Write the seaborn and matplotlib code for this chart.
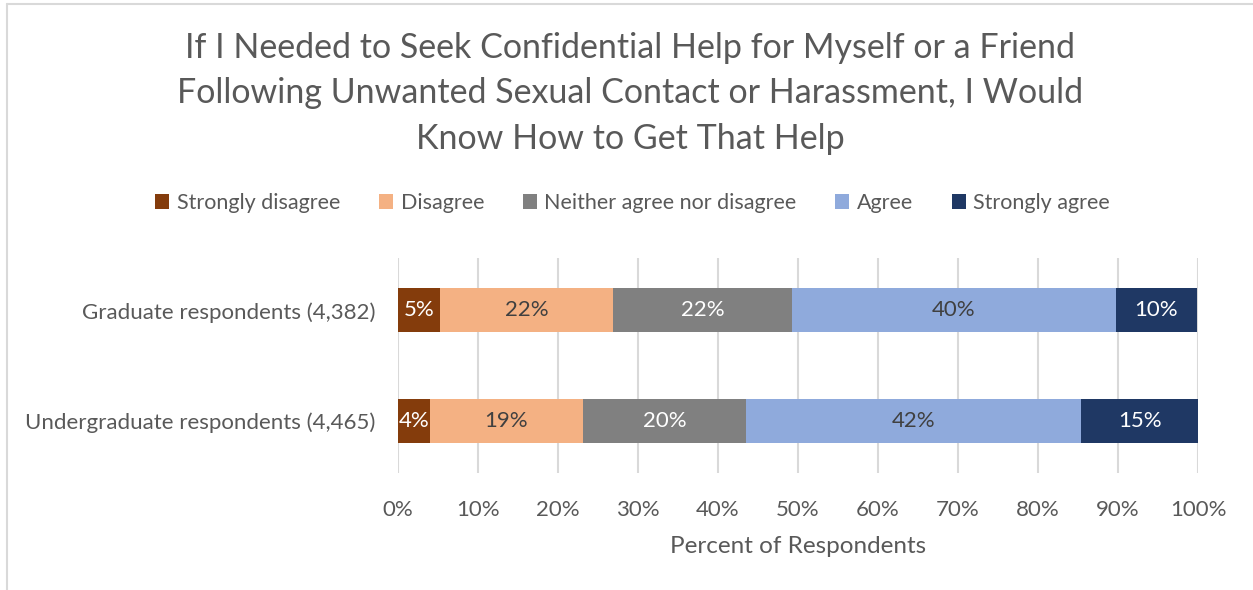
import numpy as np
import pandas as pd
import matplotlib.pyplot as plt
import seaborn as sns
from matplotlib.patches import Patch
from matplotlib.lines import Line2D

# data (percent of respondents)
groups = ["Graduate respondents (4,382)", "Undergraduate respondents (4,465)"]
responses = ["Strongly disagree", "Disagree", "Neither agree nor disagree", "Agree", "Strongly agree"]
graduate = [5.3, 21.6, 22.4, 40.4, 10.2]
undergraduate = [4.0, 19.1, 20.4, 41.9, 14.6]

colors = ["#843C0C", "#F4B183", "#808080", "#8FAADC", "#1F3864"]
label_colors = ["white", "#404040", "white", "#404040", "white"]
text_color = "#595959"

rows = []
for g, vals in zip(groups, [graduate, undergraduate]):
    cum = np.cumsum(vals)
    for r, v, c in zip(responses, vals, cum):
        rows.append({"group": g, "response": r, "value": v, "cum": c})
df = pd.DataFrame(rows)

sns.set_theme(style="white")
plt.rcParams["font.family"] = ["Lato", "DejaVu Sans"]

fig = plt.figure(figsize=(12.53, 5.90), dpi=100)
ax = fig.add_axes([0.3176, 0.198, 0.6385, 0.3644])

# stacked bars: draw cumulative totals from the last segment back to the first
for i in reversed(range(len(responses))):
    sub = df[df["response"] == responses[i]]
    sns.barplot(data=sub, x="cum", y="group", order=groups, orient="h",
                color=colors[i], saturation=1, width=0.4, linewidth=0,
                errorbar=None, ax=ax)

for j, g in enumerate(groups):
    sub = df[df["group"] == g].reset_index(drop=True)
    for i, row in sub.iterrows():
        ax.text(row["cum"] - row["value"] / 2, j, f"{round(row['value'])}%",
                ha="center", va="center", fontsize=16, color=label_colors[i])

ax.set_xlim(0, 100)
ax.set_ylim(1.47, -0.47)
ax.set_xticks(range(0, 101, 10))
ax.set_xticklabels([f"{t}%" for t in range(0, 101, 10)])
ax.xaxis.grid(True, color="#D9D9D9", linewidth=1.5)
ax.set_axisbelow(True)
for s in ax.spines.values():
    s.set_visible(False)
ax.tick_params(axis="both", length=0, labelsize=16, colors=text_color)
ax.tick_params(axis="x", pad=19)
ax.tick_params(axis="y", pad=16.5)
ax.set_ylabel("")
ax.set_xlabel("Percent of Respondents", fontsize=17.5, color=text_color, labelpad=12)

fig.text(0.503, 0.842,
         "If I Needed to Seek Confidential Help for Myself or a Friend\n"
         "Following Unwanted Sexual Contact or Harassment, I Would\n"
         "Know How to Get That Help",
         ha="center", va="center", fontsize=24.5, color=text_color, linespacing=1.52)

handles = [Patch(facecolor=c, edgecolor="none") for c in colors]
fig.legend(handles, responses, loc="center", bbox_to_anchor=(0.505, 0.656), ncol=5,
           frameon=False, fontsize=15.5, labelcolor=text_color, handlelength=0.65,
           handleheight=0.65, handletextpad=0.35, columnspacing=1.8)

# outer chart frame (left and top edges visible)
fig.add_artist(Line2D([7 / 1253, 7 / 1253], [0, 1 - 4 / 590], color="#D9D9D9", lw=1.5))
fig.add_artist(Line2D([7 / 1253, 1], [1 - 4 / 590, 1 - 4 / 590], color="#D9D9D9", lw=1.5))

fig.savefig("out.png", dpi=100)
